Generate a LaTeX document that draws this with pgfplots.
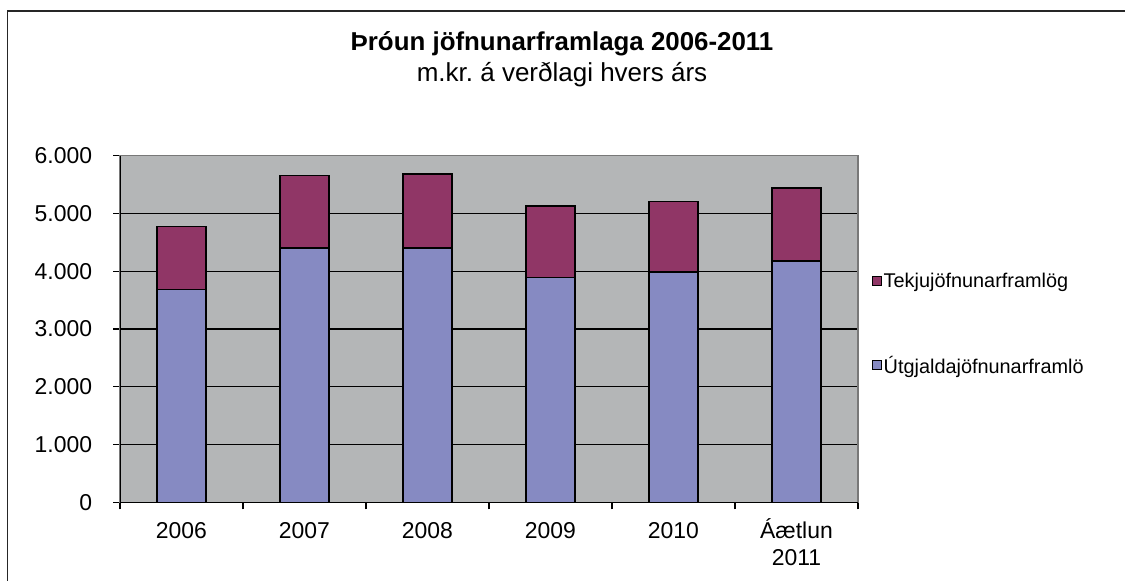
\documentclass[border=0pt]{standalone}
\usepackage{pgfplots}
\pgfplotsset{compat=1.18}
\usepackage{fontspec}
\setmainfont{Liberation Sans}
\frenchspacing
\definecolor{plotgray}{RGB}{180,182,183}
\definecolor{barblue}{RGB}{134,138,194}
\definecolor{barpurple}{RGB}{144,54,102}
\definecolor{framegray}{RGB}{120,120,120}
\begin{document}
\begin{tikzpicture}[x=0.75pt,y=0.75pt]
\useasboundingbox (0,0) rectangle (1125,581);
% outer chart border (left, top, right beyond picture)
\draw[line width=1.1pt, black!85] (7.3,-5) -- (7.3,570) -- (1130,570);
% titles
\node[anchor=base, font=\fontsize{19.4}{22}\selectfont\bfseries] at (562,530) {Þróun jöfnunarframlaga 2006-2011};
\node[anchor=base, font=\fontsize{19.5}{22}\selectfont] at (562,499) {m.kr. á verðlagi hvers árs};
\coordinate (AxSW) at (120,78.7);
\begin{axis}[
  at={(AxSW)}, anchor=south west,
  scale only axis,
  width=553.5pt, height=260pt,
  ybar stacked,
  bar width=36.75pt,
  xmin=-0.5, xmax=5.5,
  ymin=0, ymax=6000,
  xtick={0,1,2,3,4,5},
  xticklabels={2006,2007,2008,2009,2010,{\raisebox{0pt}[0.72em][0pt]{Á}ætlun\\2011}},
  minor xtick={-0.5,0.5,1.5,2.5,3.5,4.5,5.5},
  ytick={0,1000,2000,3000,4000,5000,6000},
  yticklabels={0,1.000,2.000,3.000,4.000,5.000,6.000},
  tick align=outside,
  major tick length=5.25pt,
  minor tick length=5.25pt,
  xtick pos=bottom, ytick pos=left,
  major x tick style={draw=none},
  minor x tick style={draw=black, line width=0.8pt},
  ytick style={draw=black, line width=0.8pt},
  ymajorgrids=true,
  major grid style={draw=black, line width=0.8pt},
  axis background/.style={fill=plotgray},
  axis line style={draw=framegray, line width=1pt},
  /pgf/number format/assume math mode=true,
  ticklabel style={font=\fontsize{17.2}{20.3}\selectfont},
  xticklabel style={align=center, inner sep=0pt, anchor=north},
  yticklabel style={inner sep=0pt, anchor=east},
  xticklabel shift=9.5pt,
  yticklabel shift=15.5pt,
  legend style={draw=none, fill=none, at={(1.0186,0.514)}, anchor=west,
    inner sep=0pt, row sep=48pt,
    font=\fontsize{14.9}{17}\selectfont,
    nodes={inner sep=1pt}},
  legend cell align=left,
  reverse legend,
  legend image code/.code={\draw[#1, line width=0.8pt] (0pt,-3.2pt) rectangle (7pt,3.8pt);},
  every axis plot/.append style={draw=black, line width=1.1pt},
]
\addplot[fill=barblue] coordinates {(0,3680) (1,4400) (2,4400) (3,3890) (4,3990) (5,4180)};
\addplot[fill=barpurple] coordinates {(0,1090) (1,1260) (2,1280) (3,1240) (4,1220) (5,1260)};
\legend{Útgjaldajöfnunarframlö,Tekjujöfnunarframlög}
\draw[black, line width=1pt] (rel axis cs:0,1) -- (rel axis cs:0,0) -- (rel axis cs:1,0);
\end{axis}
\end{tikzpicture}
\end{document}
